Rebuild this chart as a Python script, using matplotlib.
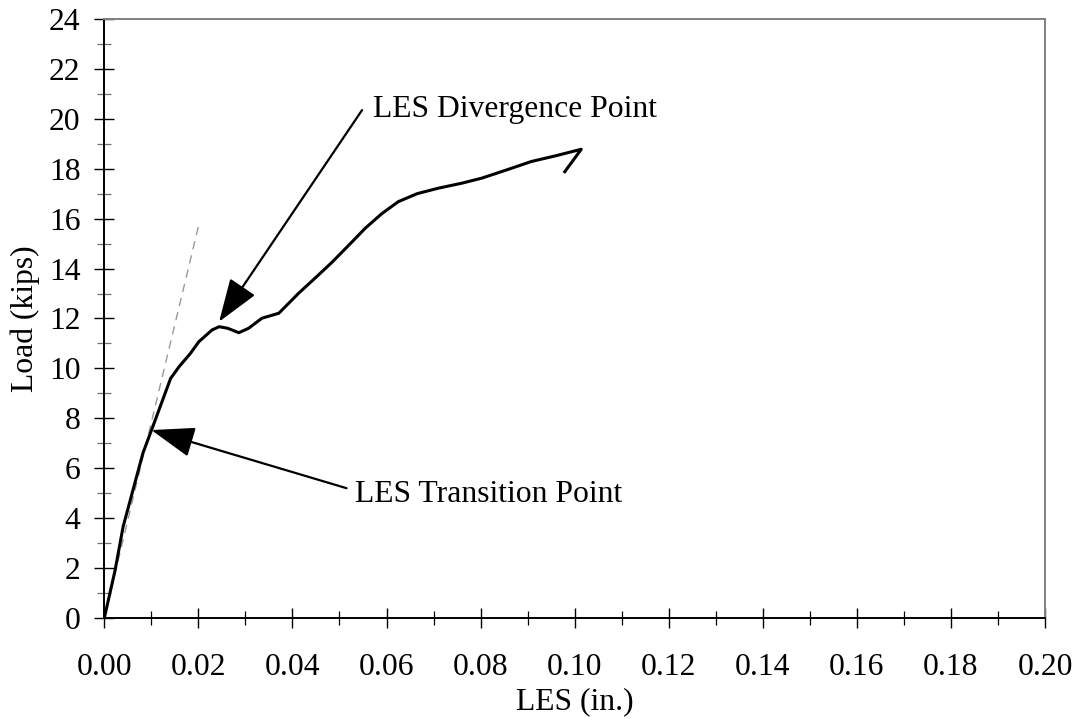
import matplotlib
matplotlib.use("Agg")
import matplotlib.pyplot as plt
from matplotlib.ticker import MultipleLocator, FormatStrFormatter

# Load vs. LES measurements
les_in = [0.0, 0.0023, 0.0040, 0.0061, 0.0082, 0.0099, 0.0141, 0.0159, 0.0183,
          0.0201, 0.0229, 0.0244, 0.0262, 0.0286, 0.0307, 0.0335, 0.0371,
          0.0413, 0.0450, 0.0484, 0.0520, 0.0555, 0.0590, 0.0625, 0.0665,
          0.0710, 0.0760, 0.0802, 0.0855, 0.0908, 0.0960, 0.1014, 0.0979]
load_kips = [0.0, 1.92, 3.66, 5.13, 6.60, 7.46, 9.60, 10.07, 10.60,
             11.07, 11.54, 11.67, 11.61, 11.43, 11.61, 12.01, 12.21,
             13.01, 13.65, 14.25, 14.94, 15.62, 16.20, 16.68, 17.00,
             17.22, 17.42, 17.62, 17.95, 18.29, 18.52, 18.78, 17.88]

# Initial stiffness reference line
stiffness_x = [0.0, 0.0202]
stiffness_y = [0.0, 15.84]

# Annotations: (text, arrow tip, arrow tail, text anchor)
annotations = [
    ("LES Divergence Point", (0.0244, 11.87), (0.0548, 20.35), (0.0571, 20.07)),
    ("LES Transition Point", (0.0100, 7.53), (0.0515, 5.20), (0.0533, 4.66)),
]

FONT = "Liberation Serif"
FS = 22.8


def style_axes(ax: plt.Axes) -> None:
    """Spines, ticks and labels in the old spreadsheet look."""
    ax.set_xlim(0, 0.20)
    ax.set_ylim(0, 24)
    ax.xaxis.set_major_locator(MultipleLocator(0.02))
    ax.xaxis.set_minor_locator(MultipleLocator(0.01))
    ax.xaxis.set_major_formatter(FormatStrFormatter("%.2f"))
    ax.yaxis.set_major_locator(MultipleLocator(2))
    ax.yaxis.set_minor_locator(MultipleLocator(1))

    for side in ("left", "bottom"):
        ax.spines[side].set_color("black")
        ax.spines[side].set_linewidth(1.4)
    for side in ("top", "right"):
        ax.spines[side].set_color("#808080")
        ax.spines[side].set_linewidth(1.4)

    ax.tick_params(axis="both", which="major", direction="inout", length=14.4,
                   width=1.0, color="black", labelsize=FS)
    ax.tick_params(axis="x", which="major", pad=18)
    ax.tick_params(axis="y", which="major", pad=10)
    ax.tick_params(axis="x", which="minor", direction="inout", length=10.5,
                   width=0.9, color="black")
    ax.tick_params(axis="y", which="minor", direction="inout", length=10.5,
                   width=0.9, color="#707070")
    for lbl in ax.get_xticklabels() + ax.get_yticklabels():
        lbl.set_family(FONT)

    ax.set_xlabel("LES (in.)", fontsize=FS, family=FONT, labelpad=4)
    ax.set_ylabel("Load (kips)", fontsize=FS, family=FONT, labelpad=6)


def main():
    fig = plt.figure(figsize=(10.81, 7.19), dpi=100)
    ax = fig.add_axes([0.0965, 0.1405, 0.8702, 0.8331])

    ax.plot(stiffness_x, stiffness_y, color="#9a9a9a", lw=1.0,
            dashes=(6, 4.5), zorder=2)
    ax.plot(les_in, load_kips, color="black", lw=2.2, zorder=3,
            solid_joinstyle="round")

    for text, tip, tail, anchor in annotations:
        ax.annotate("", xy=tip, xytext=tail,
                    arrowprops=dict(arrowstyle="-|>,head_length=27,head_width=9.5",
                                    mutation_scale=1, color="black", lw=1.6,
                                    shrinkA=0, shrinkB=0))
        ax.text(anchor[0], anchor[1], text, fontsize=FS, family=FONT,
                ha="left", va="baseline")

    style_axes(ax)
    fig.savefig("out.png", dpi=100)
    plt.close(fig)


if __name__ == "__main__":
    main()
